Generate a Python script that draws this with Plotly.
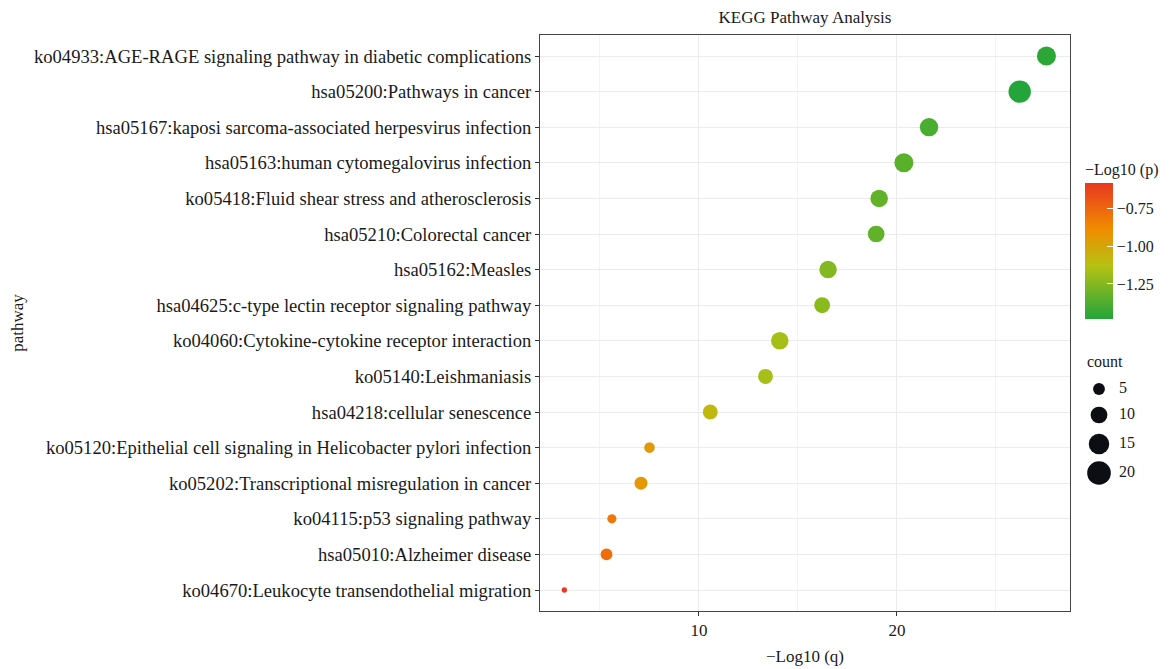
import plotly.graph_objects as go

pathways = [
    "ko04933:AGE-RAGE signaling pathway in diabetic complications",
    "hsa05200:Pathways in cancer",
    "hsa05167:kaposi sarcoma-associated herpesvirus infection",
    "hsa05163:human cytomegalovirus infection",
    "ko05418:Fluid shear stress and atherosclerosis",
    "hsa05210:Colorectal cancer",
    "hsa05162:Measles",
    "hsa04625:c-type lectin receptor signaling pathway",
    "ko04060:Cytokine-cytokine receptor interaction",
    "ko05140:Leishmaniasis",
    "hsa04218:cellular senescence",
    "ko05120:Epithelial cell signaling in Helicobacter pylori infection",
    "ko05202:Transcriptional misregulation in cancer",
    "ko04115:p53 signaling pathway",
    "hsa05010:Alzheimer disease",
    "ko04670:Leukocyte transendothelial migration",
]
neg_log10_q = [27.55, 26.2, 21.62, 20.35, 19.1, 18.95, 16.52, 16.22, 14.08, 13.36,
               10.57, 7.5, 7.07, 5.6, 5.33, 3.2]
neg_log10_p = [-1.46, -1.48, -1.39, -1.35, -1.33, -1.33, -1.25, -1.23, -1.17, -1.165,
               -1.085, -0.95, -0.94, -0.81, -0.77, -0.58]
counts = [13, 18, 12, 13, 11, 10, 11, 9, 11, 8, 8, 4, 6, 3, 5, 1]

legend_counts = [5, 10, 15, 20]
legend_labels = ["5", "10", "15", "20"]

FONT = "Liberation Serif"
TXT = "#1a1a1a"
SIZEREF = 1 / 14.0

colorscale = [
    [0.0, "#22a53a"],
    [0.39, "#b5c212"],
    [0.66, "#f08c00"],
    [1.0, "#e8381f"],
]

O = 8  # page body margin of the html page
W, H = 1170 - O, 669 - O
PL, PR, PT, PB = 540, 1070, 35, 611  # plot panel in window pixels
L = PL - O
T = PT - O
B = 669 - PB
R = 8
PW = W - L - R  # paper width in px
PH = H - T - B


def px_x(pix):
    return (pix - PL) / PW


def py(pix):
    return (PB - pix) / PH


fig = go.Figure()

fig.add_trace(go.Scatter(
    x=neg_log10_q, y=pathways, mode="markers",
    marker=dict(
        size=counts, sizemode="area", sizeref=SIZEREF,
        color=neg_log10_p, colorscale=colorscale, cmin=-1.483, cmax=-0.579,
        line=dict(width=0), opacity=1,
        colorbar=dict(
            title=dict(text="−Log10 (p)", font=dict(family=FONT, size=16, color=TXT), side="top"),
            x=px_x(1085), xanchor="left", xref="paper",
            y=py(160), yanchor="top", yref="paper",
            len=159, lenmode="pixels", thickness=28, thicknessmode="pixels",
            outlinewidth=0, ticks="inside", ticklen=6, tickcolor="white", tickwidth=1,
            tickvals=[-0.75, -1.0, -1.25], ticktext=["−0.75", "−1.00", "−1.25"],
            tickfont=dict(family=FONT, size=16, color=TXT),
            xpad=0, ypad=0,
        ),
    ),
    showlegend=False, hoverinfo="x+y",
))

# size legend
leg_y = [389, 415, 444, 473]
fig.add_trace(go.Scatter(
    x=[1099] * len(legend_counts), y=leg_y, mode="markers",
    marker=dict(size=legend_counts, sizemode="area", sizeref=SIZEREF, color="#0d0d14",
                line=dict(width=0), opacity=1),
    xaxis="x2", yaxis="y2", showlegend=False, hoverinfo="skip", cliponaxis=False,
))
fig.add_trace(go.Scatter(
    x=[1119] * len(legend_counts), y=leg_y, mode="text",
    text=legend_labels, textposition="middle right",
    textfont=dict(family=FONT, size=16, color=TXT),
    xaxis="x2", yaxis="y2", showlegend=False, hoverinfo="skip", cliponaxis=False,
))

fig.update_layout(
    width=W, height=H,
    margin=dict(l=L, r=R, t=T, b=B, autoexpand=False),
    paper_bgcolor="white", plot_bgcolor="white",
    font=dict(family=FONT, size=16, color=TXT),
    title=dict(text="KEGG Pathway Analysis", x=(805 - O) / W, xanchor="center", y=1 - (17 - O) / H,
               yanchor="middle", font=dict(family=FONT, size=17, color=TXT)),
    xaxis=dict(
        domain=[0, px_x(PR)],
        range=[1.97, 28.74], tickvals=[10, 20], ticks="outside", ticklen=4, tickcolor="#333",
        showgrid=True, gridcolor="#ebebeb", gridwidth=1.3,
        minor=dict(tickvals=[5, 15, 25], showgrid=True, gridcolor="#f3f3f3", gridwidth=0.8, ticks=""),
        showline=True, linecolor="#444", linewidth=1, mirror=True, zeroline=False,
        title=dict(text="−Log10 (q)", font=dict(family=FONT, size=17, color=TXT), standoff=10),
        tickfont=dict(family=FONT, size=17, color=TXT), automargin=False,
    ),
    yaxis=dict(
        type="category", categoryorder="array", categoryarray=pathways[::-1],
        range=[-0.59, 15.59], ticks="outside", ticklen=4, tickcolor="#333",
        showgrid=True, gridcolor="#ebebeb", gridwidth=1.3,
        showline=True, linecolor="#444", linewidth=1, mirror=True, zeroline=False,
        title=dict(text="pathway", font=dict(family=FONT, size=17, color=TXT), standoff=8),
        tickfont=dict(family=FONT, size=18.6, color=TXT), automargin=False,
    ),
    xaxis2=dict(domain=[px_x(1080), 1], range=[1080, PL + PW], visible=False,
                fixedrange=True, anchor="y2"),
    yaxis2=dict(domain=[0, 1], range=[PB, PB - PH], visible=False, fixedrange=True, anchor="x2"),
    annotations=[dict(text="count", x=px_x(1085), y=py(362), xref="paper", yref="paper",
                      xanchor="left", yanchor="middle", showarrow=False,
                      font=dict(family=FONT, size=16, color=TXT))],
)

fig.write_html("out.html")
